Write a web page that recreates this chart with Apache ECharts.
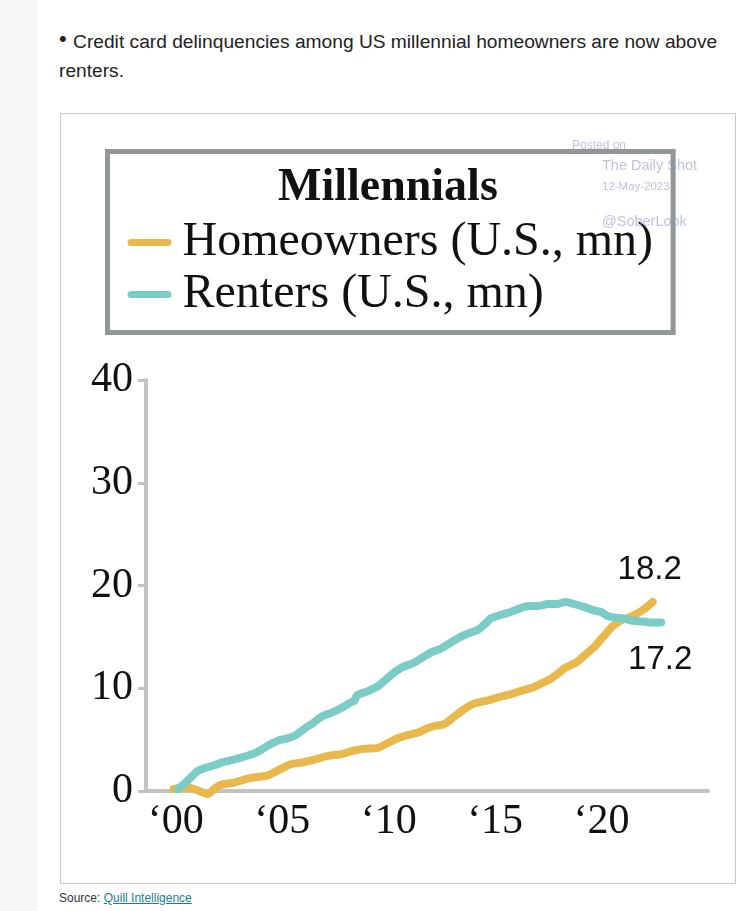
<!DOCTYPE html>
<html>
<head>
<meta charset="utf-8">
<script src="https://cdn.jsdelivr.net/npm/echarts@6/dist/echarts.min.js"></script>
<style>
  html, body { margin: 0; padding: 0; background: #fff; width: 756px; height: 911px; overflow: hidden; }
  #strip { position: absolute; left: 0; top: 0; width: 37px; height: 911px; background: #f8f8f8; }
  #para { position: absolute; left: 59px; top: 26px; width: 676px; font-family: "Liberation Sans", Arial, sans-serif;
          font-size: 19.2px; line-height: 29px; color: #222; }
  #para .b { position: relative; top: -2px; font-size: 22px; margin-right: 1px; }
  #box { position: absolute; left: 60px; top: 113px; width: 674px; height: 769px; border: 1px solid #c6c6c6; }
  #chart { position: absolute; left: 0; top: 0; width: 674px; height: 769px; }
  #src { position: absolute; left: 59px; top: 891px; font-family: "Liberation Sans", Arial, sans-serif; font-size: 12px;
         line-height: 14px; color: #333; }
  #src a { color: #1a7d8e; text-decoration: underline; }
</style>
</head>
<body>
<div id="strip"></div>
<div id="para"><span class="b">•</span> Credit card delinquencies among US millennial homeowners are now above renters.</div>
<div id="box"><div id="chart"></div></div>
<div id="src">Source: <a href="#">Quill Intelligence</a></div>
<script>
// ---- data ----
const chartTitle = 'Millennials';
const seriesNames = ['Homeowners (U.S., mn)', 'Renters (U.S., mn)'];
const endLabels = ['18.2', '17.2'];

const homeYears = [1999.9, 2000.3, 2000.7, 2001.1, 2001.5, 2001.8, 2002.1, 2002.7, 2003.2, 2003.6, 2004.3, 2004.8,
  2005.4, 2006.0, 2006.6, 2007.1, 2007.8, 2008.3, 2008.8, 2009.5, 2010.0, 2010.5, 2011.0, 2011.4, 2011.8, 2012.1,
  2012.6, 2013.0, 2013.5, 2014.0, 2014.4, 2014.8, 2015.3, 2015.7, 2016.3, 2016.8, 2017.3, 2017.6, 2018.0, 2018.3,
  2018.8, 2019.2, 2019.6, 2019.9, 2020.2, 2020.5, 2020.9, 2021.3, 2021.6, 2022.0, 2022.4];
const homeValues = [0.2, 0.3, 0.3, 0.0, -0.3, 0.2, 0.6, 0.8, 1.1, 1.3, 1.5, 2.0,
  2.6, 2.8, 3.1, 3.4, 3.6, 3.9, 4.1, 4.2, 4.7, 5.2, 5.5, 5.7, 6.1, 6.3,
  6.5, 7.1, 7.9, 8.5, 8.7, 8.9, 9.2, 9.4, 9.8, 10.1, 10.6, 10.9, 11.5, 12.0,
  12.5, 13.2, 13.9, 14.6, 15.3, 16.0, 16.6, 16.9, 17.2, 17.7, 18.4];

const rentYears = [2000.1, 2000.4, 2000.7, 2001.0, 2001.3, 2001.8, 2002.2, 2002.8, 2003.6, 2004.0, 2004.4, 2004.8,
  2005.2, 2005.6, 2006.0, 2006.5, 2006.9, 2007.3, 2007.8, 2008.2, 2008.4, 2008.5, 2009.0, 2009.5, 2009.9, 2010.3,
  2010.7, 2011.2, 2011.6, 2012.0, 2012.4, 2012.8, 2013.2, 2013.7, 2014.2, 2014.5, 2014.8, 2015.2, 2015.7, 2016.2,
  2016.6, 2017.0, 2017.5, 2017.9, 2018.3, 2018.7, 2019.2, 2019.6, 2020.0, 2020.3, 2020.6, 2021.0, 2021.4, 2021.9,
  2022.3, 2022.8];
const rentValues = [0.2, 0.7, 1.3, 1.9, 2.2, 2.5, 2.8, 3.1, 3.6, 4.0, 4.5, 4.9,
  5.1, 5.4, 6.0, 6.7, 7.3, 7.6, 8.1, 8.6, 8.8, 9.3, 9.7, 10.2, 10.9, 11.6,
  12.1, 12.5, 13.0, 13.5, 13.8, 14.3, 14.8, 15.3, 15.7, 16.2, 16.8, 17.1, 17.4, 17.8,
  18.0, 18.0, 18.2, 18.2, 18.4, 18.2, 17.9, 17.6, 17.4, 17.0, 16.9, 16.8, 16.6, 16.5,
  16.4, 16.4];

const xTickValues = [2000, 2005, 2010, 2015, 2020];
const xTickLabels = ['\u201800', '\u201805', '\u201810', '\u201815', '\u201820'];
const yTickValues = [0, 10, 20, 30, 40];

const watermark = ['Posted on', 'The Daily Shot', '12-May-2023', '@SoberLook'];

// ---- chart ----
const colors = ['#E8B84C', '#7BCBC6'];
const serif = '"Liberation Serif", "Times New Roman", serif';
const sans = '"Liberation Sans", Arial, sans-serif';
const axisGray = '#c3c3c3';
const wmColor = 'rgba(140,140,200,0.55)';

function pairs(xs, ys) { return xs.map((x, i) => [x, ys[i]]); }

const chart = echarts.init(document.getElementById('chart'), null, { renderer: 'canvas' });
chart.setOption({
  animation: false,
  backgroundColor: '#fff',
  title: {
    text: chartTitle,
    left: 217, top: 51, padding: 0,
    textStyle: { fontFamily: serif, fontWeight: 'bold', fontSize: 46, color: '#111' }
  },
  legend: {
    data: seriesNames,
    orient: 'vertical',
    left: 46.5, top: 37.5,
    padding: [66, 20, 13, 20],
    borderColor: '#929794', borderWidth: 5, borderRadius: 0,
    backgroundColor: 'rgba(255,255,255,0)',
    itemWidth: 44, itemHeight: 7, itemGap: 2,
    icon: 'path://M3.5,0 H40.5 A3.5,3.5 0 0 1 40.5,7 H3.5 A3.5,3.5 0 0 1 3.5,0 Z',
    textStyle: { fontFamily: serif, fontSize: 48, color: '#111', lineHeight: 50, padding: [0, 0, 0, 6] }
  },
  grid: { left: 85, right: 27, top: 266, bottom: 92, containLabel: false },
  xAxis: {
    type: 'value', min: 1998.6, max: 2025,
    splitLine: { show: false },
    axisLine: { show: true, onZero: false, lineStyle: { color: axisGray, width: 4 } },
    axisTick: { show: false },
    axisLabel: {
      customValues: xTickValues,
      formatter: v => xTickLabels[xTickValues.indexOf(Math.round(v))] || '',
      margin: 10, fontFamily: serif, fontSize: 42, color: '#111'
    }
  },
  yAxis: {
    type: 'value', min: 0, max: 40, interval: 10,
    splitLine: { show: false },
    axisLine: { show: true, lineStyle: { color: axisGray, width: 4 } },
    axisTick: { show: true, length: 8, lineStyle: { color: axisGray, width: 3 } },
    axisLabel: {
      formatter: v => (yTickValues.indexOf(v) >= 0 ? String(v) : ''),
      margin: 13, fontFamily: serif, fontSize: 42, color: '#111'
    }
  },
  series: [
    {
      name: seriesNames[0], type: 'line', data: pairs(homeYears, homeValues),
      showSymbol: false, smooth: 0.2, clip: false, color: colors[0],
      lineStyle: { width: 8, cap: 'round', join: 'round', color: colors[0] },
      markPoint: {
        symbol: 'circle', symbolSize: 0, silent: true,
        data: [{ coord: [homeYears[homeYears.length - 1], homeValues[homeValues.length - 1]],
          label: { show: true, formatter: endLabels[0], offset: [-3, -32],
            fontFamily: sans, fontSize: 33, color: '#111' } }]
      },
      z: 2
    },
    {
      name: seriesNames[1], type: 'line', data: pairs(rentYears, rentValues),
      showSymbol: false, smooth: 0.2, clip: false, color: colors[1],
      lineStyle: { width: 8, cap: 'round', join: 'round', color: colors[1] },
      markPoint: {
        symbol: 'circle', symbolSize: 0, silent: true,
        data: [{ coord: [rentYears[rentYears.length - 1], rentValues[rentValues.length - 1]],
          label: { show: true, formatter: endLabels[1], offset: [-1, 37],
            fontFamily: sans, fontSize: 33, color: '#111' } }]
      },
      z: 3
    }
  ],
  graphic: [
    { type: 'text', left: 511, top: 26, z: 100, style: { text: watermark[0], font: '12px ' + sans, fill: wmColor } },
    { type: 'text', left: 541, top: 44, z: 100, style: { text: watermark[1], font: '14.5px ' + sans, fill: wmColor } },
    { type: 'text', left: 541, top: 67, z: 100, style: { text: watermark[2], font: '11.5px ' + sans, fill: wmColor } },
    { type: 'text', left: 541, top: 100, z: 100, style: { text: watermark[3], font: '14.5px ' + sans, fill: wmColor } }
  ]
});
</script>
</body>
</html>
